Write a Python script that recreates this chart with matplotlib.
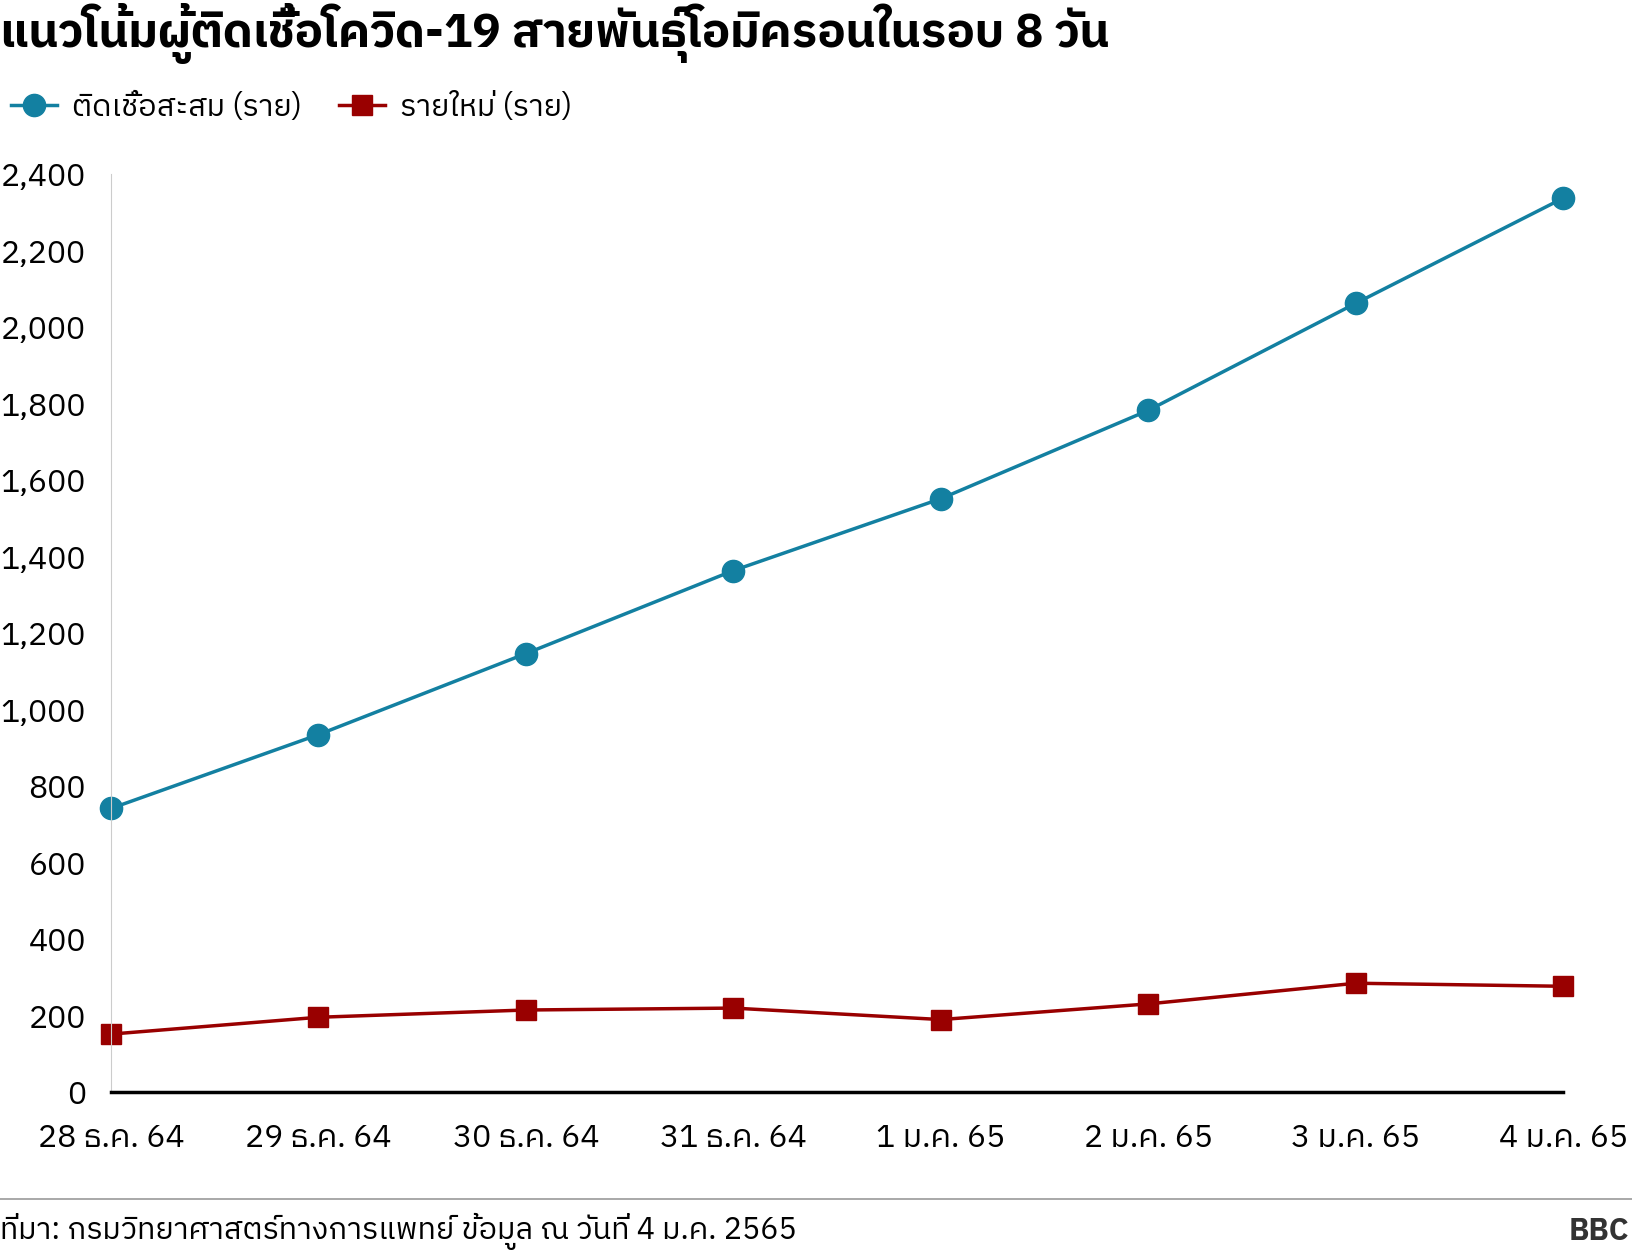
import matplotlib
matplotlib.use("Agg")
import matplotlib.pyplot as plt
from matplotlib import font_manager as fm

names = sorted({f.name for f in fm.fontManager.ttflist})
thai = [n for n in names if 'Thai' in n or 'Sarabun' in n or 'Loma' in n or 'Garuda' in n or 'Kinnari' in n]
fam = thai + ['DejaVu Sans']
plt.rcParams['font.family'] = fam

dates = ["28 ธ.ค. 64", "29 ธ.ค. 64", "30 ธ.ค. 64", "31 ธ.ค. 64", "1 ม.ค. 65", "2 ม.ค. 65", "3 ม.ค. 65", "4 ม.ค. 65"]
cumulative = [742, 935, 1147, 1364, 1552, 1783, 2063, 2338]
new_cases = [152, 196, 215, 220, 190, 231, 285, 277]

fig = plt.figure(figsize=(16.32, 12.54), dpi=100)
ax = fig.add_axes([0.068, 0.129, 0.89, 0.732])
x = list(range(len(dates)))
ax.plot(x, cumulative, color='#1380A1', lw=2.5, marker='o', ms=16, label='ติดเชื้อสะสม (ราย)')
ax.plot(x, new_cases, color='#990000', lw=2.5, marker='s', ms=15, label='รายใหม่ (ราย)')
ax.set_ylim(0, 2400)
ax.set_xlim(0, 7)
ax.set_yticks(range(0, 2401, 200))
ax.set_yticklabels([f"{v:,}" for v in range(0, 2401, 200)], fontsize=23)
ax.set_xticks(x)
ax.set_xticklabels(dates, fontsize=23)
for s in ['top', 'right']:
    ax.spines[s].set_visible(False)
ax.spines['left'].set_color('#cccccc')
ax.spines['bottom'].set_linewidth(2.5)
ax.tick_params(axis='y', length=0, pad=18)
ax.tick_params(axis='x', length=0, pad=22)
for l in ax.lines:
    l.set_clip_on(False)

fig.text(0.0, 0.973, 'แนวโน้มผู้ติดเชื้อโควิด-19 สายพันธุ์โอมิครอนในรอบ 8 วัน', fontsize=34, fontweight='bold', va='center')
fig.legend(loc='center left', bbox_to_anchor=(-0.01, 0.915), ncol=2, frameon=False, fontsize=22, handlelength=1.5, columnspacing=1.2, handletextpad=0.5)
fig.add_artist(plt.Line2D([0, 1], [0.044, 0.044], color='#999999', lw=1.2))
fig.text(0.0, 0.018, 'ที่มา: กรมวิทยาศาสตร์ทางการแพทย์ ข้อมูล ณ วันที่ 4 ม.ค. 2565', fontsize=22, va='center')
fig.text(0.998, 0.018, 'BBC', fontsize=22, fontweight='bold', ha='right', va='center', color='#333333')
fig.savefig('out.png', dpi=100)
